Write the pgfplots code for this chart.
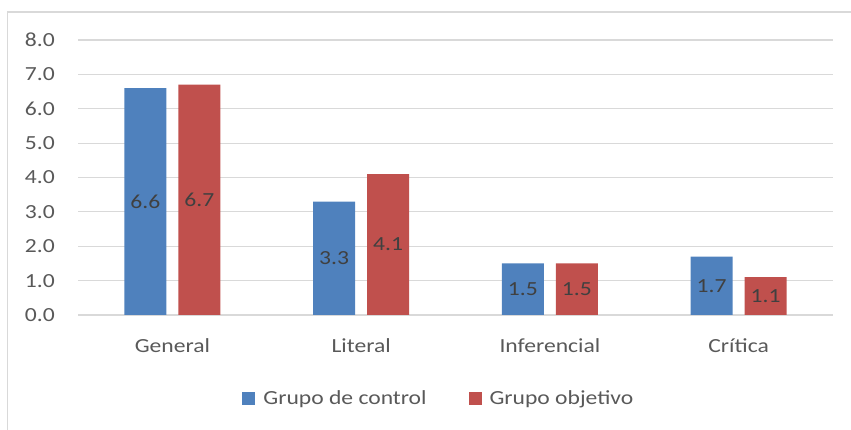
\documentclass[border=0pt]{standalone}
\usepackage{fontspec}
\setmainfont{Carlito}[FakeStretch=1.18]
\usepackage{pgfplots}
\pgfplotsset{compat=1.18}
\definecolor{cblue}{HTML}{4F81BD}
\definecolor{cred}{HTML}{C0504D}
\definecolor{cgrid}{HTML}{D9D9D9}
\definecolor{ctext}{HTML}{595959}
\definecolor{clabel}{HTML}{404040}
\begin{document}
\begin{tikzpicture}
\path[use as bounding box] (0pt,0pt) rectangle (851pt,430pt);
\draw[cgrid, line width=1.2pt] (7.5pt,0pt) -- (7.5pt,418pt) -- (851pt,418pt);
\begin{axis}[
  at={(78pt,115pt)}, anchor=south west,
  scale only axis, width=755pt, height=275pt,
  xmin=-0.5, xmax=3.5, ymin=0, ymax=8,
  ytick={0,1,...,8},
  xtick={0,1,2,3},
  xticklabels={General, Literal, Inferencial, Crítica},
  axis line style={draw=none},
  major tick length=0pt,
  ymajorgrids, grid style={cgrid, line width=1.2pt},
  font=\fontsize{20pt}{24pt}\selectfont,
  /pgf/number format/assume math mode=true,
  yticklabel style={/pgf/number format/.cd, fixed, fixed zerofill, precision=1, /tikz/.cd, text=ctext, anchor=east, inner sep=0pt, xshift=-23pt},
  xticklabel style={text=ctext, anchor=base, inner sep=0pt, yshift=-38pt},
  ybar, bar width=42pt,
  nodes near coords={\pgfmathprintnumber[fixed, fixed zerofill, precision=1]{\pgfplotspointmeta}},
  visualization depends on={y \as \ry},
  every node near coord/.append style={anchor=center, text=clabel, yshift={-\ry*17.1875pt}},
  legend style={at={(0.478,-0.302)}, anchor=center, draw=none, fill=none, legend columns=-1, text=ctext, inner sep=0pt,
    /tikz/every odd column/.append style={column sep=6pt},
    /tikz/every even column/.append style={column sep=40pt}},
  legend image code/.code={\fill[#1] (0pt,-6.5pt) rectangle (13pt,6.5pt);},
]
\addplot[fill=cblue, draw=none, bar shift=-27pt] coordinates {(0,6.6) (1,3.3) (2,1.5) (3,1.7)};
\addplot[fill=cred, draw=none, bar shift=27pt] coordinates {(0,6.7) (1,4.1) (2,1.5) (3,1.1)};
\legend{Grupo de control, Grupo objetivo}
\end{axis}
\end{tikzpicture}
\end{document}
